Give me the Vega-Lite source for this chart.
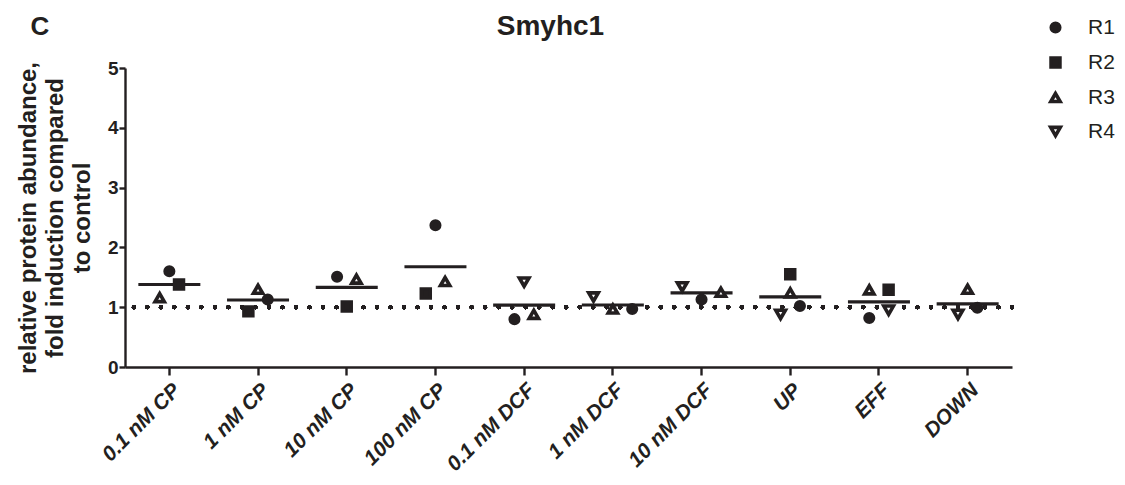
{
  "$schema": "https://vega.github.io/schema/vega-lite/v6.json",
  "width": 887,
  "height": 299,
  "autosize": "none",
  "padding": {"left": 125, "top": 68, "right": 113, "bottom": 118},
  "background": "white",
  "config": {
    "view": {"stroke": null},
    "font": "Liberation Sans"
  },
  "title": {
    "text": "Smyhc1",
    "anchor": "middle",
    "frame": "group",
    "font": "Liberation Sans",
    "fontSize": 28,
    "fontWeight": "bold",
    "color": "#231f20",
    "baseline": "alphabetic",
    "dx": -18,
    "offset": -50
  },
  "data": {
    "values": [
      {"group": "0.1 nM CP", "series": "R1", "value": 1.60, "dodge": 0},
      {"group": "0.1 nM CP", "series": "R2", "value": 1.38, "dodge": 1},
      {"group": "0.1 nM CP", "series": "R3", "value": 1.16, "dodge": -1},
      {"group": "1 nM CP", "series": "R1", "value": 1.13, "dodge": 1},
      {"group": "1 nM CP", "series": "R2", "value": 0.93, "dodge": -1},
      {"group": "1 nM CP", "series": "R3", "value": 1.30, "dodge": 0},
      {"group": "10 nM CP", "series": "R1", "value": 1.51, "dodge": -1},
      {"group": "10 nM CP", "series": "R2", "value": 1.01, "dodge": 0},
      {"group": "10 nM CP", "series": "R3", "value": 1.47, "dodge": 1},
      {"group": "100 nM CP", "series": "R1", "value": 2.37, "dodge": 0},
      {"group": "100 nM CP", "series": "R2", "value": 1.23, "dodge": -1},
      {"group": "100 nM CP", "series": "R3", "value": 1.43, "dodge": 1},
      {"group": "0.1 nM DCF", "series": "R1", "value": 0.80, "dodge": -1},
      {"group": "0.1 nM DCF", "series": "R3", "value": 0.88, "dodge": 1},
      {"group": "0.1 nM DCF", "series": "R4", "value": 1.42, "dodge": 0},
      {"group": "1 nM DCF", "series": "R1", "value": 0.97, "dodge": 2},
      {"group": "1 nM DCF", "series": "R3", "value": 0.97, "dodge": 0},
      {"group": "1 nM DCF", "series": "R4", "value": 1.17, "dodge": -2},
      {"group": "10 nM DCF", "series": "R1", "value": 1.13, "dodge": 0},
      {"group": "10 nM DCF", "series": "R3", "value": 1.25, "dodge": 2},
      {"group": "10 nM DCF", "series": "R4", "value": 1.34, "dodge": -2},
      {"group": "UP", "series": "R1", "value": 1.02, "dodge": 1},
      {"group": "UP", "series": "R2", "value": 1.55, "dodge": 0},
      {"group": "UP", "series": "R3", "value": 1.24, "dodge": 0},
      {"group": "UP", "series": "R4", "value": 0.88, "dodge": -1},
      {"group": "EFF", "series": "R1", "value": 0.82, "dodge": -1},
      {"group": "EFF", "series": "R2", "value": 1.29, "dodge": 1},
      {"group": "EFF", "series": "R3", "value": 1.29, "dodge": -1},
      {"group": "EFF", "series": "R4", "value": 0.95, "dodge": 1},
      {"group": "DOWN", "series": "R1", "value": 0.99, "dodge": 1},
      {"group": "DOWN", "series": "R3", "value": 1.30, "dodge": 0},
      {"group": "DOWN", "series": "R4", "value": 0.88, "dodge": -1}
    ]
  },
  "resolve": {"axis": {"x": "independent"}},
  "layer": [
    {
      "mark": {"type": "rule", "color": "#231f20", "strokeWidth": 4, "strokeDash": [0.01, 13.5], "strokeCap": "round"},
      "encoding": {"y": {"datum": 1, "type": "quantitative"}}
    },
    {
      "mark": {"type": "tick", "color": "#231f20", "thickness": 3.2, "size": 62, "opacity": 1},
      "encoding": {
        "x": {
          "field": "group", "type": "nominal", "sort": null,
          "scale": {"type": "band", "paddingInner": 0, "paddingOuter": 0},
          "axis": {
            "orient": "top", "title": "C", "domain": false, "ticks": false, "labels": false, "grid": false,
            "titleFont": "Liberation Sans", "titleFontSize": 26, "titleFontWeight": "bold", "titleColor": "#231f20",
            "titleX": -95, "titleY": -34, "titleAlign": "left", "titleBaseline": "alphabetic", "titleAngle": 0
          }
        },
        "y": {"aggregate": "mean", "field": "value", "type": "quantitative"}
      }
    },
    {
      "mark": {"type": "point", "filled": false, "stroke": "#231f20", "strokeWidth": 3.6, "strokeJoin": "miter", "opacity": 1},
      "encoding": {
        "x": {
          "field": "group", "type": "nominal", "sort": null,
          "axis": {
            "orient": "bottom", "title": null, "domainColor": "#231f20", "domainWidth": 2.4,
            "tickColor": "#231f20", "tickWidth": 2.4, "tickSize": 8,
            "labelAngle": -45, "labelFont": "Liberation Sans", "labelFontSize": 21, "labelFontWeight": "bold",
            "labelFontStyle": "italic", "labelColor": "#231f20", "labelPadding": 4, "grid": false
          }
        },
        "xOffset": {"field": "dodge", "type": "ordinal", "scale": {"type": "point", "domain": [-2, -1, 0, 1, 2], "range": [25, 63.7], "padding": 0}},
        "y": {
          "field": "value", "type": "quantitative",
          "scale": {"domain": [0, 5], "nice": false, "zero": true},
          "axis": {
            "values": [0, 1, 2, 3, 4, 5], "grid": false, "format": "d",
            "domainColor": "#231f20", "domainWidth": 2.4, "tickColor": "#231f20", "tickWidth": 2.4, "tickSize": 6,
            "labelFont": "Liberation Sans", "labelFontSize": 19, "labelFontWeight": "bold", "labelColor": "#231f20", "labelPadding": 1,
            "title": ["relative protein abundance,", "fold induction compared", "to control"],
            "titleFont": "Liberation Sans", "titleFontSize": 24, "titleFontWeight": "bold", "titleColor": "#231f20",
            "titleLineHeight": 27, "titlePadding": 13
          }
        },
        "shape": {
          "field": "series", "type": "nominal",
          "scale": {"domain": ["R1", "R2", "R3", "R4"], "range": ["circle", "square", "triangle-up", "triangle-down"]},
          "legend": {
            "title": null, "orient": "none", "legendX": 920, "legendY": -51,
            "labelFont": "Liberation Sans", "labelFontSize": 21, "labelColor": "#231f20", "labelOffset": 22,
            "rowPadding": 11, "symbolStrokeWidth": 3.6
          }
        },
        "fill": {
          "field": "series", "type": "nominal",
          "scale": {"domain": ["R1", "R2", "R3", "R4"], "range": ["#231f20", "#231f20", "#ffffff", "#ffffff"]}
        },
        "size": {
          "field": "series", "type": "nominal",
          "scale": {"domain": ["R1", "R2", "R3", "R4"], "range": [72, 92, 118, 118]}
        }
      }
    }
  ]
}
